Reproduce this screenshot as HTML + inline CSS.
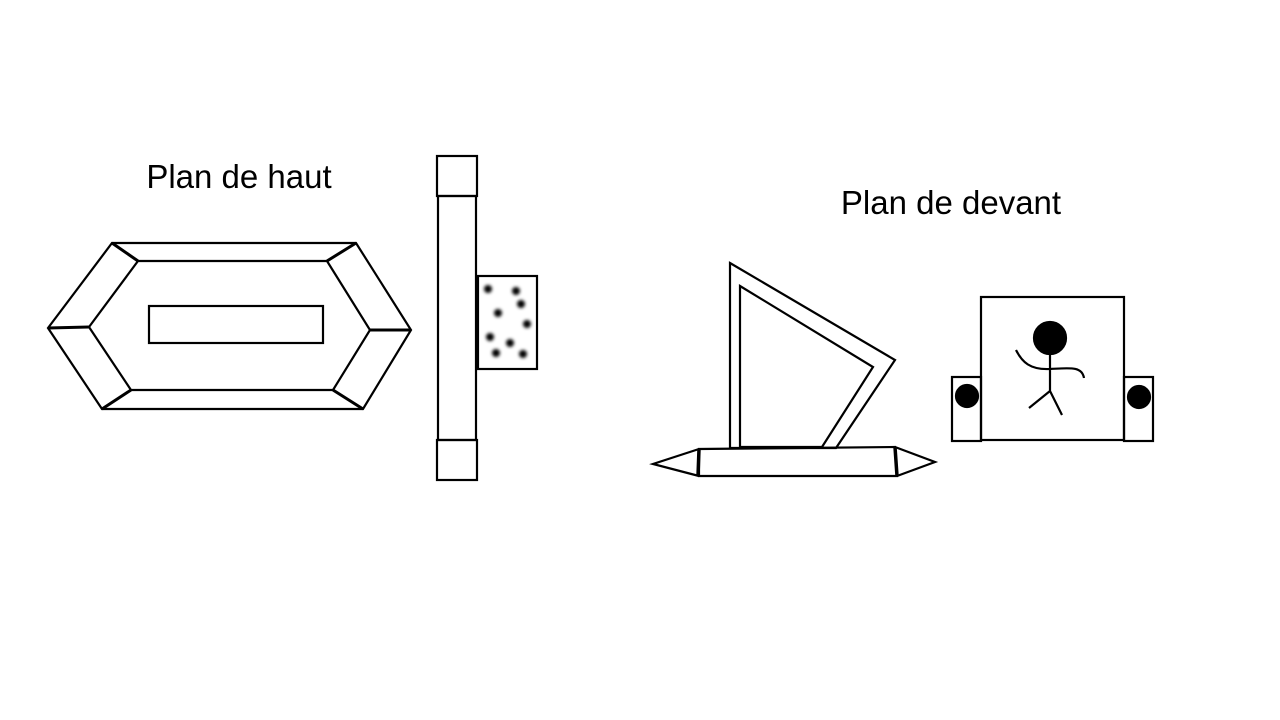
<!DOCTYPE html>
<html><head><meta charset="utf-8"><style>
html,body{margin:0;padding:0;background:#fff;width:1280px;height:720px;overflow:hidden}
svg{display:block}
text{font-family:"Liberation Sans",sans-serif;font-size:33px;fill:#000}
</style></head><body>
<svg width="1280" height="720" viewBox="0 0 1280 720" fill="none" stroke="#000" stroke-width="2.2">
<defs><filter id="b"><feGaussianBlur stdDeviation="1.5"/></filter></defs>
<text x="239" y="188" text-anchor="middle" stroke="none">Plan de haut</text>
<text x="951" y="214" text-anchor="middle" stroke="none">Plan de devant</text>
<g>
<polygon points="112,243 356,243 411,330 363,409 102,409 48,328"/>
<polygon points="138,261 327,261 370,330 333,390 131,390 89,327"/>
<path d="M112,243 L138,261 M356,243 L327,261 M411,330 L370,330 M363,409 L333,390 M102,409 L131,390 M48,328 L89,327" stroke-width="3"/>
<rect x="149" y="306" width="174" height="37"/>
</g>
<g>
<rect x="438" y="196" width="38" height="244"/>
<rect x="437" y="156" width="40" height="40"/>
<rect x="437" y="440" width="40" height="40"/>
<rect x="478" y="276" width="59" height="93"/>
<g fill="#000" stroke="none" filter="url(#b)">
<circle cx="488" cy="289" r="4"/><circle cx="516" cy="291" r="4"/><circle cx="521" cy="304" r="4"/>
<circle cx="498" cy="313" r="4"/><circle cx="527" cy="324" r="4"/><circle cx="490" cy="337" r="4"/>
<circle cx="510" cy="343" r="4"/><circle cx="496" cy="353" r="4"/><circle cx="523" cy="354" r="4"/>
</g></g>
<g>
<polygon points="730,263 895,360 836,448 730,448"/>
<polygon points="740,286 873,367 822,447 740,447"/>
<polygon points="699,449 895,447 897,476 699,476"/>
<path d="M699,449 L653,464 L699,476 M895,447 L935,462 L897,476"/>
<path d="M699,449 L698,476 M895,447 L897,476" stroke-width="3.5"/>
</g>
<g>
<rect x="981" y="297" width="143" height="143"/>
<rect x="952" y="377" width="29" height="64"/>
<rect x="1124" y="377" width="29" height="64"/>
<circle cx="967" cy="396" r="11" fill="#000"/>
<circle cx="1139" cy="397" r="11" fill="#000"/>
<g>
<circle cx="1050" cy="338" r="16" fill="#000"/>
<path d="M1050,352 L1050,391 M1016,350 C1022,362 1030,370 1050,369 C1070,368 1082,366 1084,378 M1050,391 L1029,408 M1050,391 L1062,415"/>
</g></g>
</svg>
</body></html>
